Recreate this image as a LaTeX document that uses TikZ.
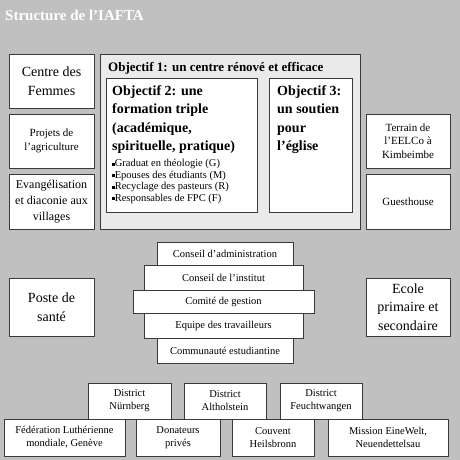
\documentclass[tikz,border=0pt]{standalone}
\usepackage{fontspec}
\setmainfont{Liberation Serif}
\usepackage{xcolor}
\definecolor{page-grey}{HTML}{C0C0C0}
\definecolor{frame-grey}{HTML}{EAEAEA}
\definecolor{edge-grey}{HTML}{3A3A3A}
\newcommand{\sqbullet}{\raisebox{1pt}{\rule{2.6pt}{2.6pt}}}

\begin{document}
\begin{tikzpicture}[x=1pt, y=-1pt,
    box/.style={draw=edge-grey, fill=white, line width=0.9pt, inner sep=0pt,
      align=center},
    big/.style={font=\fontsize{14}{18.5}\selectfont},
    small/.style={font=\fontsize{11}{13.5}\selectfont},
    tiny/.style={font=\fontsize{10.5}{13}\selectfont}]
      \fill[page-grey] (0,0) rectangle (460,460);
      \node[anchor=west, text=white, font=\bfseries\fontsize{15}{18}\selectfont,
        inner sep=0pt]
        (title) at (5,15) {Structure de l'IAFTA};

      % left column
      \node[box, big, minimum width=85, minimum height=54]
        (femmes) at (51.5,81) {Centre des\\Femmes};
      \node[box, small, minimum width=85, minimum height=54]
        (agri) at (51.5,141) {Projets de\\l'agriculture};
      \node[box, font=\fontsize{12}{16}\selectfont, minimum width=85, minimum height=55]
        (evang) at (51.5,201.5) {Evangélisation\\et diaconie aux\\villages};

      % objectives
      \node[box, fill=frame-grey, minimum width=260, minimum height=175]
        (obj1) at (230,141.5) {};
      \node[anchor=north west, inner sep=0pt, font=\bfseries\fontsize{13}{16}\selectfont]
        (obj1txt) at (108,62) {Objectif 1: un centre rénové et efficace};
      \node[box, minimum width=151, minimum height=134]
        (obj2) at (181.5,145) {};
      \node[anchor=north west, inner sep=0pt, align=left,
        font=\bfseries\fontsize{14}{18.5}\selectfont]
        (obj2txt) at (112,85) {Objectif 2: une\\formation triple\\(académique,\\spirituelle, pratique)};
      \node[anchor=north west, inner sep=0pt, align=left,
        font=\fontsize{10.5}{11.5}\selectfont]
        (obj2list) at (112,159) {\sqbullet Graduat en théologie (G)\\
          \sqbullet Epouses des étudiants (M)\\
          \sqbullet Recyclage des pasteurs (R)\\
          \sqbullet Responsables de FPC (F)};
      \node[box, minimum width=83, minimum height=134]
        (obj3) at (310.5,145) {};
      \node[anchor=north west, inner sep=0pt, align=left,
        font=\bfseries\fontsize{14}{18.5}\selectfont]
        (obj3txt) at (277,85) {Objectif 3:\\un soutien\\pour\\l'église};

      % right column
      \node[box, small, minimum width=84, minimum height=54]
        (terrain) at (408,141) {Terrain de\\l'EELCo à\\Kimbeimbe};
      \node[box, small, minimum width=84, minimum height=55]
        (guest) at (408,201.5) {Guesthouse};

      % middle row
      \node[box, big, minimum width=85, minimum height=58]
        (poste) at (51.5,307) {Poste de\\santé};
      \node[box, big, minimum width=84, minimum height=58]
        (ecole) at (408,307) {Ecole\\primaire et\\secondaire};

      % governance stack
      \node[box, tiny, minimum width=136, minimum height=23]
        (admin) at (225,253.5) {Conseil d'administration};
      \node[box, tiny, minimum width=136, minimum height=25]
        (etud) at (225,350.5) {Communauté estudiantine};
      \node[box, tiny, minimum width=159, minimum height=25]
        (institut) at (223.5,277.5) {Conseil de l'institut};
      \node[box, tiny, minimum width=159, minimum height=25]
        (equipe) at (223.5,325.5) {Equipe des travailleurs};
      \node[box, tiny, minimum width=181, minimum height=23]
        (comite) at (223.5,301.5) {Comité de gestion};

      % partners
      \node[box, tiny, minimum width=83, minimum height=36]
        (nurnberg) at (129.5,401) {District\\Nürnberg};
      \node[box, tiny, minimum width=82, minimum height=36]
        (altholstein) at (225,401) {District\\Altholstein};
      \node[box, tiny, minimum width=82, minimum height=36]
        (feucht) at (321,401) {District\\Feuchtwangen};
      \node[box, tiny, minimum width=121, minimum height=37]
        (lwf) at (64.5,437.5) {Fédération Luthérienne\\mondiale, Genève};
      \node[box, tiny, minimum width=84, minimum height=37]
        (donateurs) at (178,437.5) {Donateurs\\privés};
      \node[box, tiny, minimum width=82, minimum height=37]
        (couvent) at (273,437.5) {Couvent\\Heilsbronn};
      \node[box, tiny, minimum width=120, minimum height=37]
        (mission) at (388,437.5) {Mission EineWelt,\\Neuendettelsau};
    \end{tikzpicture}
\end{document}
